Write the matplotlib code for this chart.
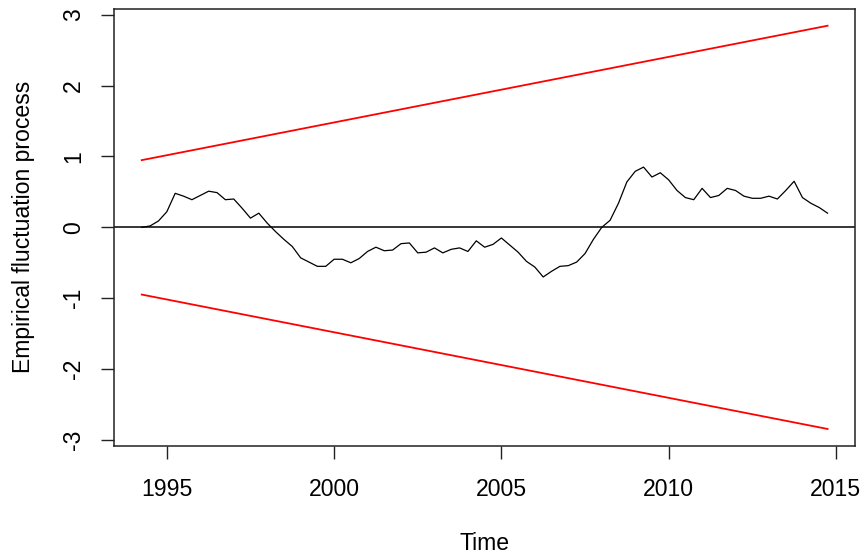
import numpy as np
import matplotlib
matplotlib.use("Agg")
import matplotlib.pyplot as plt

plt.rcParams['font.family'] = ['Liberation Sans', 'DejaVu Sans']

# Quarterly time series (start 1994 Q2)
start_year = 1994.25
freq = 4
process = [0.00, 0.02, 0.09,
           0.22, 0.48, 0.44, 0.39,
           0.45, 0.51, 0.49, 0.39,
           0.40, 0.27, 0.13, 0.20,
           0.06, -0.06, -0.17, -0.27,
           -0.43, -0.49, -0.55, -0.55,
           -0.45, -0.45, -0.50, -0.44,
           -0.34, -0.28, -0.33, -0.32,
           -0.23, -0.22, -0.36, -0.35,
           -0.29, -0.36, -0.31, -0.29,
           -0.34, -0.19, -0.28, -0.24,
           -0.15, -0.25, -0.35, -0.48,
           -0.56, -0.70, -0.62, -0.55,
           -0.54, -0.49, -0.37, -0.17,
           0.00, 0.10, 0.34, 0.64,
           0.79, 0.85, 0.71, 0.77,
           0.67, 0.52, 0.42, 0.39,
           0.55, 0.42, 0.45, 0.55,
           0.52, 0.44, 0.41, 0.41,
           0.44, 0.40, 0.52, 0.65,
           0.42, 0.34, 0.28, 0.20]
boundary_start = 0.948
boundary_end = 2.844
x_ticks = [1995, 2000, 2005, 2010, 2015]
y_ticks = [-3, -2, -1, 0, 1, 2, 3]

time = start_year + np.arange(len(process)) / freq
t_ends = [time[0], time[-1]]

fig = plt.figure(figsize=(8.64, 5.56), dpi=100)
ax = fig.add_axes([114.3 / 864, 1 - 445.7 / 556, (855 - 114.3) / 864, (445.7 - 9) / 556])

ax.plot(time, process, color='black', lw=0.9)
ax.axhline(0, color='black', lw=1.1)
ax.plot(t_ends, [boundary_start, boundary_end], color='#FF0000', lw=1.3)
ax.plot(t_ends, [-boundary_start, -boundary_end], color='#FF0000', lw=1.3)

span = time[-1] - time[0]
ax.set_xlim(time[0] - 0.04 * span, time[-1] + 0.04 * span)
ax.set_ylim(-3.08, 3.08)

ax.set_xticks(x_ticks)
ax.set_yticks(y_ticks)
ax.set_yticklabels([str(v) for v in y_ticks])
ax.tick_params(axis='both', direction='out', length=9.4, width=1.0, labelsize=16.6, colors='#222222', labelcolor='black')
ax.tick_params(axis='x', pad=13.5)
ax.tick_params(axis='y', pad=11.5, labelrotation=90)
for lab in ax.get_yticklabels():
    lab.set_va('center')

for s in ax.spines.values():
    s.set_linewidth(1.1)
    s.set_color('#222222')

ax.set_xlabel('Time', fontsize=16.6, labelpad=23)
ax.set_ylabel('Empirical fluctuation process', fontsize=16.6, labelpad=19.5)

fig.savefig('out.png', dpi=100)
